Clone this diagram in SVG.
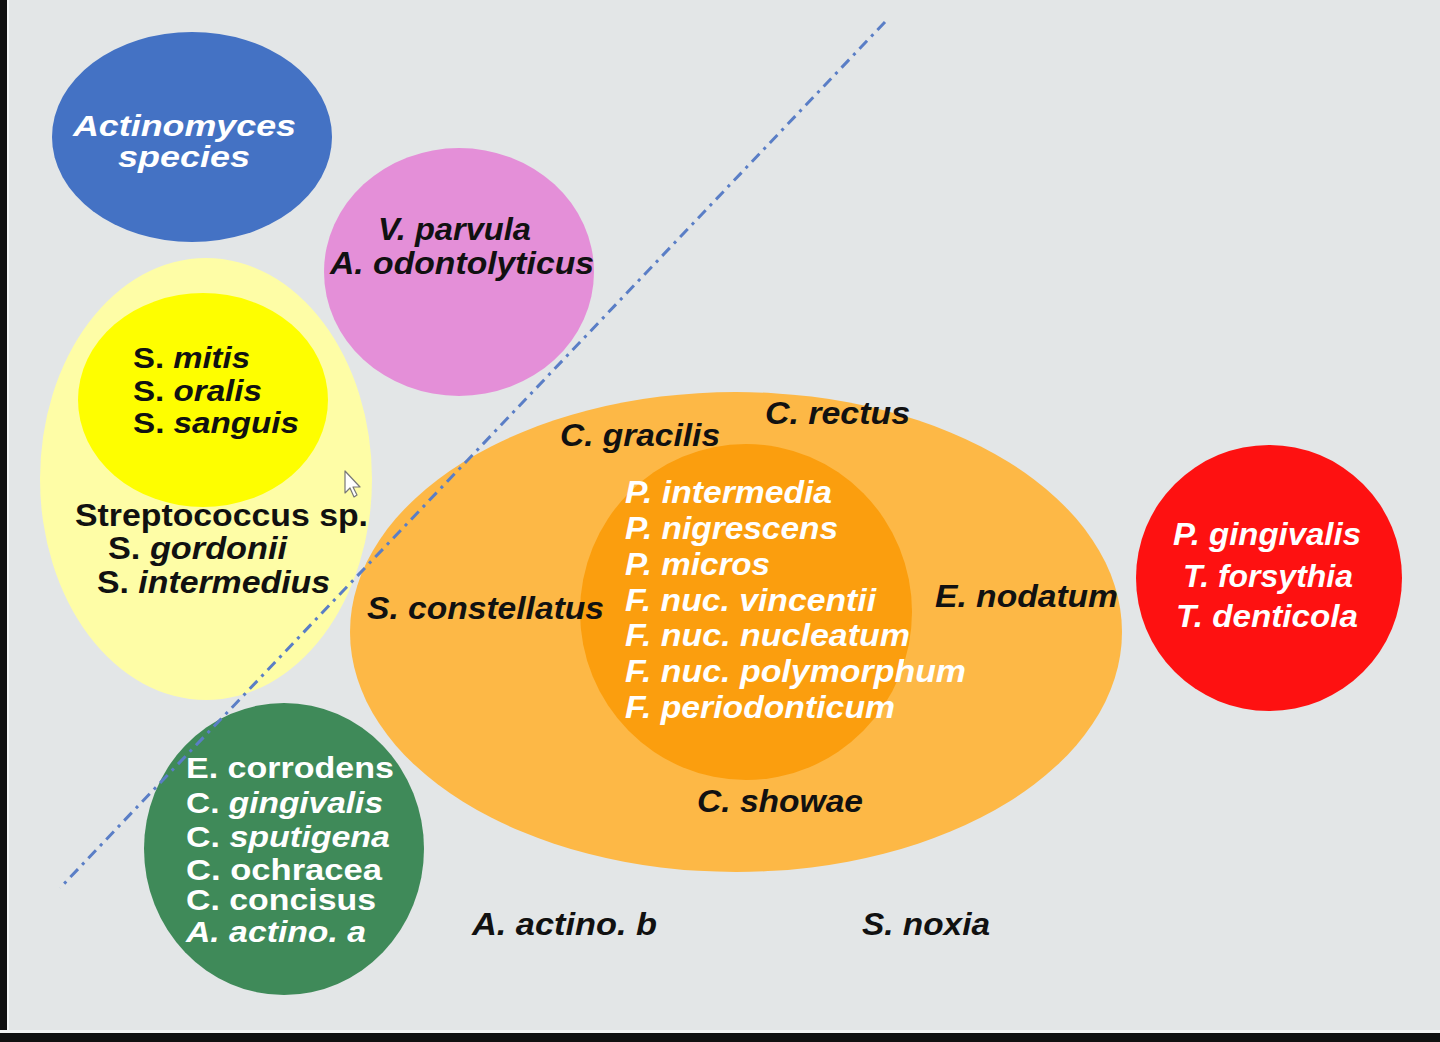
<svg xmlns="http://www.w3.org/2000/svg" width="1440" height="1042" viewBox="0 0 1440 1042">
<style>
text{font-family:"Liberation Sans",Arial,sans-serif;font-weight:bold;font-size:32px}
.s{font-size:30px}
.w{fill:#ffffff}
.k{fill:#111111}
.i{font-style:italic}
.n{font-style:normal}
</style>
<rect x="0" y="0" width="1440" height="1042" fill="#e3e6e7"/>
<rect x="0" y="0" width="7" height="1042" fill="#111"/>
<rect x="7" y="0" width="2" height="1034" fill="#f4f5f5"/>
<rect x="0" y="1033" width="1440" height="9" fill="#111"/>
<rect x="0" y="1030" width="1440" height="3" fill="#f4f5f5"/>

<g id="actinomyces">
<ellipse cx="192" cy="137" rx="140" ry="105" fill="#4472c4"/>
<text class="w i s" x="73" y="136" textLength="223" lengthAdjust="spacingAndGlyphs">Actinomyces</text>
<text class="w i s" x="118" y="167" textLength="132" lengthAdjust="spacingAndGlyphs">species</text>
</g>

<g id="purple">
<ellipse cx="459" cy="272" rx="135" ry="124" fill="#e48fd8"/>
<text class="k i" x="378" y="240" textLength="153" lengthAdjust="spacingAndGlyphs">V. parvula</text>
<text class="k i" x="330" y="274" textLength="264" lengthAdjust="spacingAndGlyphs">A. odontolyticus</text>
</g>

<g id="yellow-complex">
<ellipse cx="206" cy="479" rx="166" ry="221" fill="#fefda6"/>
<ellipse cx="203" cy="400" rx="125" ry="107" fill="#fefe00"/>
<text class="k s" x="133" y="368" textLength="117" lengthAdjust="spacingAndGlyphs">S. <tspan class="i">mitis</tspan></text>
<text class="k s" x="133" y="401" textLength="129" lengthAdjust="spacingAndGlyphs">S. <tspan class="i">oralis</tspan></text>
<text class="k s" x="133" y="433" textLength="166" lengthAdjust="spacingAndGlyphs">S. <tspan class="i">sanguis</tspan></text>
<text class="k" x="75" y="526" textLength="293" lengthAdjust="spacingAndGlyphs">Streptococcus sp.</text>
<text class="k" x="108" y="559" textLength="179" lengthAdjust="spacingAndGlyphs">S. <tspan class="i">gordonii</tspan></text>
<text class="k" x="97" y="593" textLength="233" lengthAdjust="spacingAndGlyphs">S. <tspan class="i">intermedius</tspan></text>
</g>

<g id="green-complex">
<ellipse cx="284" cy="849" rx="140" ry="146" fill="#3f8a59"/>
<text class="w s" x="186" y="778" textLength="208" lengthAdjust="spacingAndGlyphs">E. corrodens</text>
<text class="w s" x="186" y="813" textLength="197" lengthAdjust="spacingAndGlyphs">C. <tspan class="i">gingivalis</tspan></text>
<text class="w s" x="186" y="847" textLength="204" lengthAdjust="spacingAndGlyphs">C. <tspan class="i">sputigena</tspan></text>
<text class="w s" x="186" y="880" textLength="196" lengthAdjust="spacingAndGlyphs">C. ochracea</text>
<text class="w s" x="186" y="910" textLength="190" lengthAdjust="spacingAndGlyphs">C. concisus</text>
<text class="w i s" x="186" y="942" textLength="180" lengthAdjust="spacingAndGlyphs">A. actino. a</text>
</g>

<g id="orange-complex">
<ellipse cx="736" cy="632" rx="386" ry="240" fill="#fdb846"/>
<ellipse cx="746" cy="612" rx="166" ry="168" fill="#fb9e0e"/>
<text class="k i" x="560" y="446" textLength="160" lengthAdjust="spacingAndGlyphs">C. gracilis</text>
<text class="k i" x="765" y="424" textLength="145" lengthAdjust="spacingAndGlyphs">C. rectus</text>
<text class="k i" x="367" y="619" textLength="237" lengthAdjust="spacingAndGlyphs">S. constellatus</text>
<text class="k i" x="935" y="607" textLength="183" lengthAdjust="spacingAndGlyphs">E. nodatum</text>
<text class="k i" x="697" y="812" textLength="166" lengthAdjust="spacingAndGlyphs">C. showae</text>
<text class="w i" x="625" y="503" textLength="207" lengthAdjust="spacingAndGlyphs">P. intermedia</text>
<text class="w i" x="625" y="539" textLength="213" lengthAdjust="spacingAndGlyphs">P. nigrescens</text>
<text class="w i" x="625" y="575" textLength="145" lengthAdjust="spacingAndGlyphs">P. micros</text>
<text class="w i" x="625" y="611" textLength="251" lengthAdjust="spacingAndGlyphs">F. nuc. vincentii</text>
<text class="w i" x="625" y="646" textLength="285" lengthAdjust="spacingAndGlyphs">F. nuc. nucleatum</text>
<text class="w i" x="625" y="682" textLength="341" lengthAdjust="spacingAndGlyphs">F. nuc. polymorphum</text>
<text class="w i" x="625" y="718" textLength="270" lengthAdjust="spacingAndGlyphs">F. periodonticum</text>
</g>

<g id="red-complex">
<circle cx="1269" cy="578" r="133" fill="#fe1111"/>
<text class="w i" x="1173" y="545" textLength="188" lengthAdjust="spacingAndGlyphs">P. gingivalis</text>
<text class="w i" x="1183" y="587" textLength="170" lengthAdjust="spacingAndGlyphs">T. forsythia</text>
<text class="w i" x="1176" y="627" textLength="182" lengthAdjust="spacingAndGlyphs">T. denticola</text>
</g>

<g id="unassigned">
<text class="k i" x="472" y="935" textLength="185" lengthAdjust="spacingAndGlyphs">A. actino. b</text>
<text class="k i" x="862" y="935" textLength="128" lengthAdjust="spacingAndGlyphs">S. noxia</text>
</g>

<g id="connectors">
<line x1="885" y1="22" x2="60" y2="888" stroke="#5a7ec6" stroke-width="3" stroke-dasharray="11 6 3 6"/>
</g>

<g id="cursor">
<path d="M345 471 L345 493 L350 488 L354 497 L357 495 L353 487 L360 487 Z" fill="#ffffff" stroke="#777" stroke-width="1.2" stroke-linejoin="round"/>
</g>
</svg>
